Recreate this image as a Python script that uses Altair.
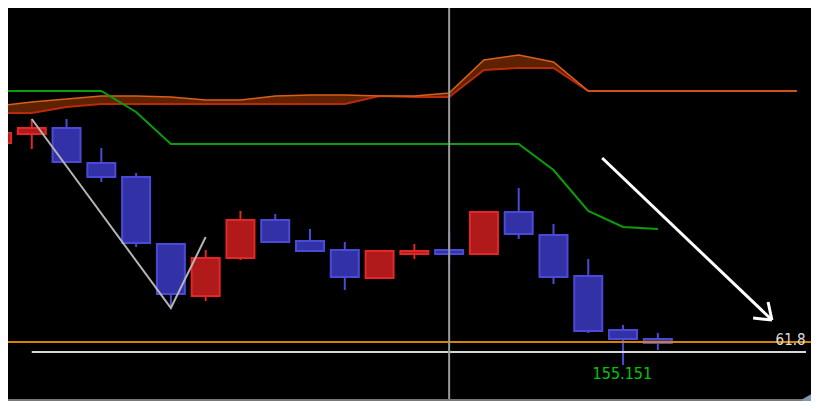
import altair as alt
import pandas as pd

# ---- candles (index, open, close, high, low) ----
idx = list(range(20))
opens = [157.371, 157.461, 157.521, 157.171, 157.031, 156.361, 155.841, 156.221, 156.601, 156.391,
         156.301, 156.021, 156.261, 156.301, 156.261, 156.681, 156.451, 156.041, 155.501, 155.411]
closes = [157.471, 157.521, 157.181, 157.031, 156.371, 155.861, 156.221, 156.601, 156.381, 156.291,
          156.031, 156.291, 156.291, 156.261, 156.681, 156.461, 156.031, 155.491, 155.411, 155.371]
highs = [157.471, 157.611, 157.611, 157.321, 157.071, 156.361, 156.301, 156.691, 156.661, 156.511,
         156.381, 156.291, 156.361, 156.481, 156.691, 156.921, 156.561, 156.211, 155.551, 155.471]
lows = [157.371, 157.311, 157.181, 156.981, 156.331, 155.721, 155.791, 156.201, 156.381, 156.291,
        155.901, 156.021, 156.211, 156.171, 156.261, 156.411, 155.961, 155.471, 155.151, 155.301]

# ---- kijun (green) ----
kijun = [157.891, 157.891, 157.891, 157.891, 157.681, 157.361, 157.361, 157.361, 157.361, 157.361,
         157.361, 157.361, 157.361, 157.361, 157.361, 157.361, 157.101, 156.691, 156.531, 156.511]

# ---- cloud (shifted forward) ----
cloud_idx = list(range(24))
span_a = [157.741, 157.781, 157.811, 157.841, 157.841, 157.831, 157.801, 157.801, 157.841, 157.851,
          157.851, 157.841, 157.841, 157.871, 158.201, 158.251, 158.181, 157.891, 157.891, 157.891,
          157.891, 157.891, 157.891, 157.891]
span_b = [157.671, 157.671, 157.731, 157.761, 157.761, 157.761, 157.761, 157.761, 157.761, 157.761,
          157.761, 157.841, 157.831, 157.831, 158.101, 158.121, 158.121, 157.891, 157.891, 157.891,
          157.891, 157.891, 157.891, 157.891]

# ---- annotations ----
zig_x = [1, 5, 6.0]
zig_y = [157.611, 155.721, 156.431]
arrow_x = [17.40, 22.28]
arrow_y = [157.221, 155.601]
head_x = [21.74, 22.17]
head_y = [155.621, 155.781]
fib_level = 155.381
fib_label = "61.8"
base_level = 155.281
low_label = "155.151"
cross_idx = 13

W, H = 803, 393
XDOM = [0.4605, 23.26]
YDOM = [154.791, 158.721]

xs = alt.Scale(domain=XDOM, nice=False, zero=False)
ys = alt.Scale(domain=YDOM, nice=False, zero=False)
X = lambda f: alt.X(f, type="quantitative", scale=xs, axis=None)
Y = lambda f: alt.Y(f, type="quantitative", scale=ys, axis=None)

candles = pd.DataFrame({"i": idx, "o": opens, "c": closes, "h": highs, "l": lows})
candles["dir"] = ["up" if c >= o else "down" for o, c in zip(opens, closes)]
cloud = pd.DataFrame({"i": cloud_idx, "a": span_a, "b": span_b})
kij = pd.DataFrame({"i": idx, "k": kijun})

dir_fill = alt.Color("dir:N", scale=alt.Scale(domain=["up", "down"], range=["#b01a1a", "#3232a6"]), legend=None)
dir_stroke = alt.Stroke("dir:N", scale=alt.Scale(domain=["up", "down"], range=["#e42626", "#4a4ad8"]), legend=None)

area = alt.Chart(cloud).mark_area(color="#5e2200", opacity=1, clip=True).encode(
    x=X("i"), y=Y("a"), y2="b")
line_b = alt.Chart(cloud).mark_line(color="#b82a0a", strokeWidth=2, clip=True).encode(x=X("i"), y=Y("b"))
line_a = alt.Chart(cloud).mark_line(color="#d8601a", strokeWidth=1.6, clip=True).encode(x=X("i"), y=Y("a"))
green = alt.Chart(kij).mark_line(color="#0a9e0a", strokeWidth=2, clip=True).encode(x=X("i"), y=Y("k"))

wicks = alt.Chart(candles).mark_rule(strokeWidth=2, clip=True).encode(
    x=X("i"), y=Y("h"), y2="l",
    color=alt.Color("dir:N", scale=alt.Scale(domain=["up", "down"], range=["#e42626", "#4a4ad8"]), legend=None))
bodies = alt.Chart(candles).mark_bar(size=28, strokeWidth=2, clip=True).encode(
    x=X("i"), y=Y("o"), y2="c", fill=dir_fill, stroke=dir_stroke)

zig = alt.Chart(pd.DataFrame({"x": zig_x, "y": zig_y})).mark_line(color="#b4b4b4", strokeWidth=2).encode(
    x=X("x"), y=Y("y"))

fib = alt.Chart(pd.DataFrame({"y": [fib_level]})).mark_rule(color="#d98000", strokeWidth=2).encode(
    y=Y("y"), x=alt.value(0), x2=alt.value(W))
base = alt.Chart(pd.DataFrame({"y": [base_level], "x": [1], "x2": [XDOM[1]]})).mark_rule(
    color="#d8d8d8", strokeWidth=2).encode(y=Y("y"), x=X("x"), x2="x2")

cross = alt.Chart(pd.DataFrame({"x": [cross_idx], "y": [YDOM[1] + 0.08], "y2": [154.801]})).mark_rule(
    color="#9a9a9a", strokeWidth=2).encode(x=X("x"), y=Y("y"), y2="y2")

arrow = alt.Chart(pd.DataFrame({"x": [arrow_x[0]], "y": [arrow_y[0]], "x2": [arrow_x[1]], "y2": [arrow_y[1]]})).mark_rule(
    color="#ffffff", strokeWidth=3).encode(x=X("x"), y=Y("y"), x2="x2", y2="y2")
head = alt.Chart(pd.DataFrame({"x": head_x, "y": head_y, "x2": [arrow_x[1]] * 2, "y2": [arrow_y[1]] * 2})).mark_rule(
    color="#ffffff", strokeWidth=3).encode(x=X("x"), y=Y("y"), x2="x2", y2="y2")

font = "Liberation Sans Narrow, DejaVu Sans Condensed, Arial Narrow, sans-serif"
fib_txt = alt.Chart(pd.DataFrame({"x": [XDOM[1] - 0.01], "y": [155.351], "t": [fib_label]})).mark_text(
    align="right", baseline="alphabetic", font=font, fontSize=15, color="#dcdcdc").encode(
    x=X("x"), y=Y("y"), text="t:N")
low_txt = alt.Chart(pd.DataFrame({"x": [17.98], "y": [155.011], "t": [low_label]})).mark_text(
    align="center", baseline="alphabetic", font=font, fontSize=16, color="#00c800").encode(
    x=X("x"), y=Y("y"), text="t:N")

bottom = alt.Chart(pd.DataFrame({"y": [154.801]})).mark_rule(color="#787878", strokeWidth=2).encode(
    y=Y("y"), x=alt.value(0), x2=alt.value(W))
tri = alt.Chart(pd.DataFrame({"x": [23.36], "y": [154.801]})).mark_point(
    shape="triangle-left", filled=True, size=380, color="#8296b4", opacity=1).encode(x=X("x"), y=Y("y"))

chart = alt.layer(
    area, line_b, line_a, green, wicks, bodies, fib, base, zig, cross, arrow, head,
    fib_txt, low_txt, bottom, tri
).properties(width=W, height=H, background="#000000", padding=0, autosize=alt.AutoSizeParams(type="none")
).configure_view(stroke=None)

chart.save("out.html", embed_options={"renderer": "svg", "actions": False})
